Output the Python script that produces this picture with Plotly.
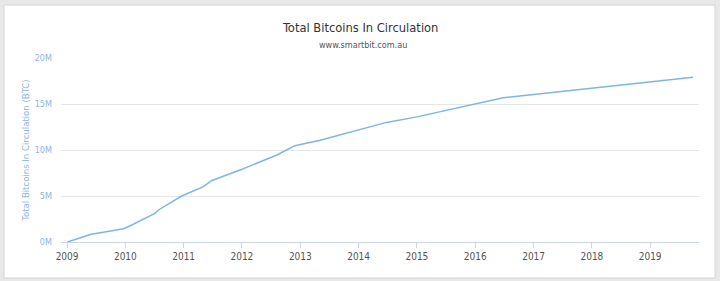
import plotly.graph_objects as go

# Data (date, total BTC in millions)
dates = ["2009-01-03", "2009-06-01", "2009-08-25", "2009-12-20", "2010-02-01",
         "2010-07-05", "2010-07-27", "2010-12-20", "2011-05-05", "2011-06-25",
         "2011-09-27", "2012-01-01", "2012-08-07", "2012-11-28", "2013-05-05",
         "2014-01-01", "2014-06-25", "2015-01-01", "2016-01-01", "2016-06-25",
         "2017-01-01", "2018-01-01", "2019-01-01", "2019-09-27"]
supply_m = [0.0, 0.84, 1.09, 1.45, 1.77,
            3.12, 3.48, 5.0, 6.01, 6.66,
            7.28, 7.9, 9.46, 10.47, 11.05,
            12.2, 13.0, 13.6, 14.95, 15.68,
            16.03, 16.71, 17.4, 17.9]

y_tickvals = [0, 5, 10, 15, 20]
y_ticktext = ["0M", "5M", "10M", "15M", "20M"]
x_tickvals = [f"{y}-01-01" for y in range(2009, 2020)]
x_ticktext = [str(y) for y in range(2009, 2020)]

W, H = 720, 281
L, R, T, B = 61, 21, 58, 39
pw, ph = W - L - R, H - T - B
FONT = "Liberation Sans Narrow, DejaVu Sans Condensed, sans-serif"

def px_to_paper_x(px):
    return (px - L) / pw

def py_to_paper_y(py):
    return (H - B - py) / ph

fig = go.Figure()
fig.add_trace(go.Scatter(
    x=dates, y=supply_m, mode="lines",
    line=dict(color="#7cb5ec", width=1.5),
    showlegend=False, hoverinfo="skip",
))

fig.update_layout(
    width=W, height=H,
    margin=dict(l=L, r=R, t=T, b=B),
    paper_bgcolor="#e8e8e8",
    plot_bgcolor="rgba(0,0,0,0)",
    font=dict(family=FONT),
    shapes=[dict(
        type="rect", xref="paper", yref="paper", layer="below",
        x0=px_to_paper_x(4), x1=px_to_paper_x(715),
        y0=py_to_paper_y(278), y1=py_to_paper_y(5),
        fillcolor="white", line=dict(color="#d4d4d4", width=1),
    )],
    annotations=[
        dict(text="Total Bitcoins In Circulation", xref="paper", yref="paper",
             x=px_to_paper_x(359.5), y=py_to_paper_y(27), showarrow=False,
             xanchor="center", yanchor="middle",
             font=dict(size=12.8, color="#333333", family=FONT)),
        dict(text="www.smartbit.com.au", xref="paper", yref="paper",
             x=px_to_paper_x(363), y=py_to_paper_y(45), showarrow=False,
             xanchor="center", yanchor="middle",
             font=dict(size=9, color="#555555", family=FONT)),
    ],
)

fig.update_xaxes(
    type="date",
    range=["2008-11-24", "2019-11-03"],
    tickvals=x_tickvals, ticktext=x_ticktext,
    ticks="outside", ticklen=5, tickcolor="#ccd6eb", tickwidth=1,
    showline=True, linecolor="#ccd6eb", linewidth=1,
    showgrid=False, zeroline=False,
    tickfont=dict(size=10, color="#555555"),
)
fig.update_yaxes(
    range=[0, 20],
    tickvals=y_tickvals, ticktext=y_ticktext,
    showgrid=True, gridcolor="#e6e6e6", gridwidth=1,
    zeroline=False, showline=False,
    ticks="", ticklabelstandoff=8,
    tickfont=dict(size=9, color="#8fb4e8"),
    title=dict(text="Total Bitcoins In Circulation (BTC)", standoff=3,
               font=dict(size=9.5, color="#8fb4e8")),
)

fig.write_html("out.html")
